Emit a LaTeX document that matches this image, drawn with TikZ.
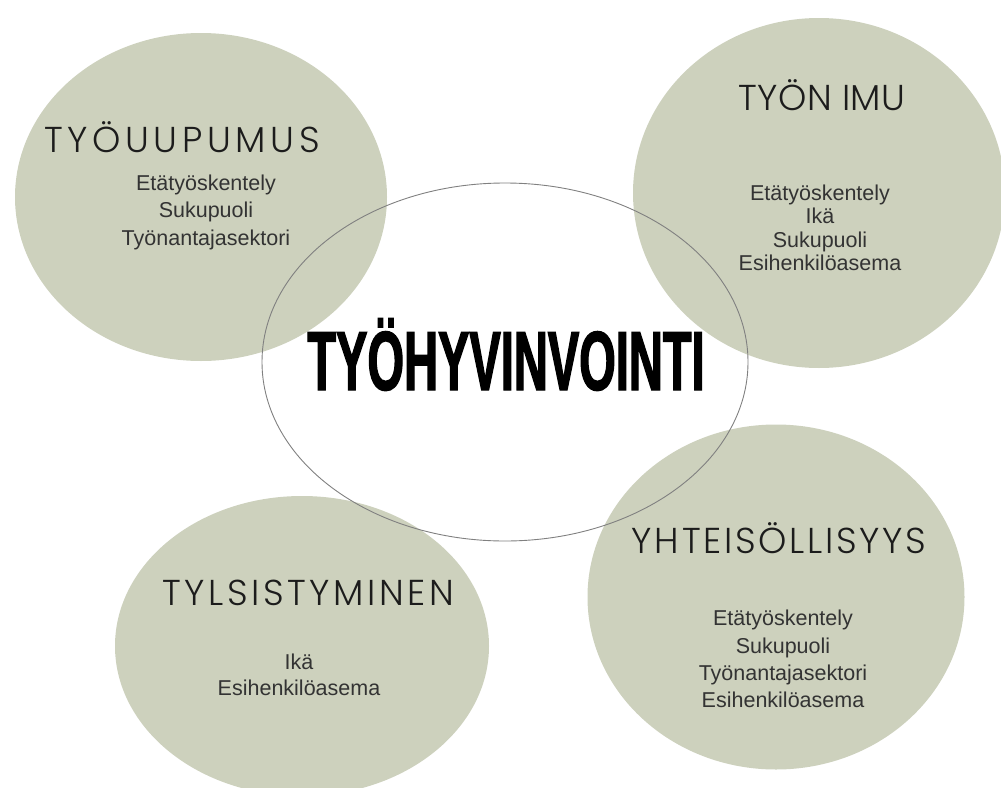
\documentclass[tikz,border=0pt]{standalone}
\usepackage{fontspec}
\setmainfont{Liberation Sans}
\newfontfamily\headfont{Poppins Light}
\newfontfamily\titlefont{Liberation Sans Bold}[FakeStretch=0.56,FakeBold=1.5]
\usetikzlibrary{shapes.geometric}
\definecolor{sage}{RGB}{205,209,189}
\definecolor{rimgray}{RGB}{128,128,128}
\definecolor{ink}{RGB}{28,28,28}
\newcommand{\spaced}[1]{\addfontfeature{LetterSpace=#1}}
\begin{document}
\begin{tikzpicture}[x=1pt,y=-1pt,
    factor/.style={ellipse,fill=sage,inner sep=0pt},
    heading/.style={anchor=base,text=ink,inner sep=0pt},
    items/.style={align=center,text=ink!90,inner sep=0pt}]
\useasboundingbox (0,0) rectangle (1001,787);
% ympyrat
\node[factor,minimum width=372pt,minimum height=328pt] (uupumus) at (201,197) {};
\node[factor,minimum width=372pt,minimum height=350pt] (imu) at (819,193) {};
\node[factor,minimum width=374pt,minimum height=300pt] (tylsistyminen) at (302,646) {};
\node[factor,minimum width=377pt,minimum height=345pt] (yhteisollisyys) at (776,597) {};
% otsikot ja tekijat
\node[heading,font=\headfont\fontsize{36}{40}\selectfont\spaced{13}] (uupumusotsikko)
    at (182,152) {TYÖUUPUMUS};
\node[items,font=\fontsize{21.5}{27.5}\selectfont] (uupumustekijat) at (206,212)
    {Etätyöskentely\\Sukupuoli\\Työnantajasektori};
\node[heading,font=\headfont\fontsize{36}{40}\selectfont\spaced{1}] (imuotsikko)
    at (822,110) {TYÖN IMU};
\node[items,font=\fontsize{21.5}{23.5}\selectfont] (imutekijat) at (820,228)
    {Etätyöskentely\\Ikä\\Sukupuoli\\Esihenkilöasema};
\node[heading,font=\headfont\fontsize{36}{40}\selectfont\spaced{10}] (tylsotsikko)
    at (308,605) {TYLSISTYMINEN};
\node[items,font=\fontsize{21.5}{26}\selectfont] (tylstekijat) at (299,675)
    {Ikä\\Esihenkilöasema};
\node[heading,font=\headfont\fontsize{36}{40}\selectfont\spaced{7.5}] (yhtotsikko)
    at (779,553) {YHTEISÖLLISYYS};
\node[items,font=\fontsize{21.5}{27.3}\selectfont] (yhttekijat) at (783,659)
    {Etätyöskentely\\Sukupuoli\\Työnantajasektori\\Esihenkilöasema};
% keskusellipsi
\node[ellipse,draw=rimgray,line width=0.9pt,inner sep=0pt,
    minimum width=486pt,minimum height=358pt] (hyvinvointi) at (505,362) {};
\node[anchor=base,inner sep=0pt,font=\titlefont\fontsize{84}{90}\selectfont] (hyvinvointiotsikko)
    at (506,390) {TYÖHYVINVOINTI};
\end{tikzpicture}
\end{document}
